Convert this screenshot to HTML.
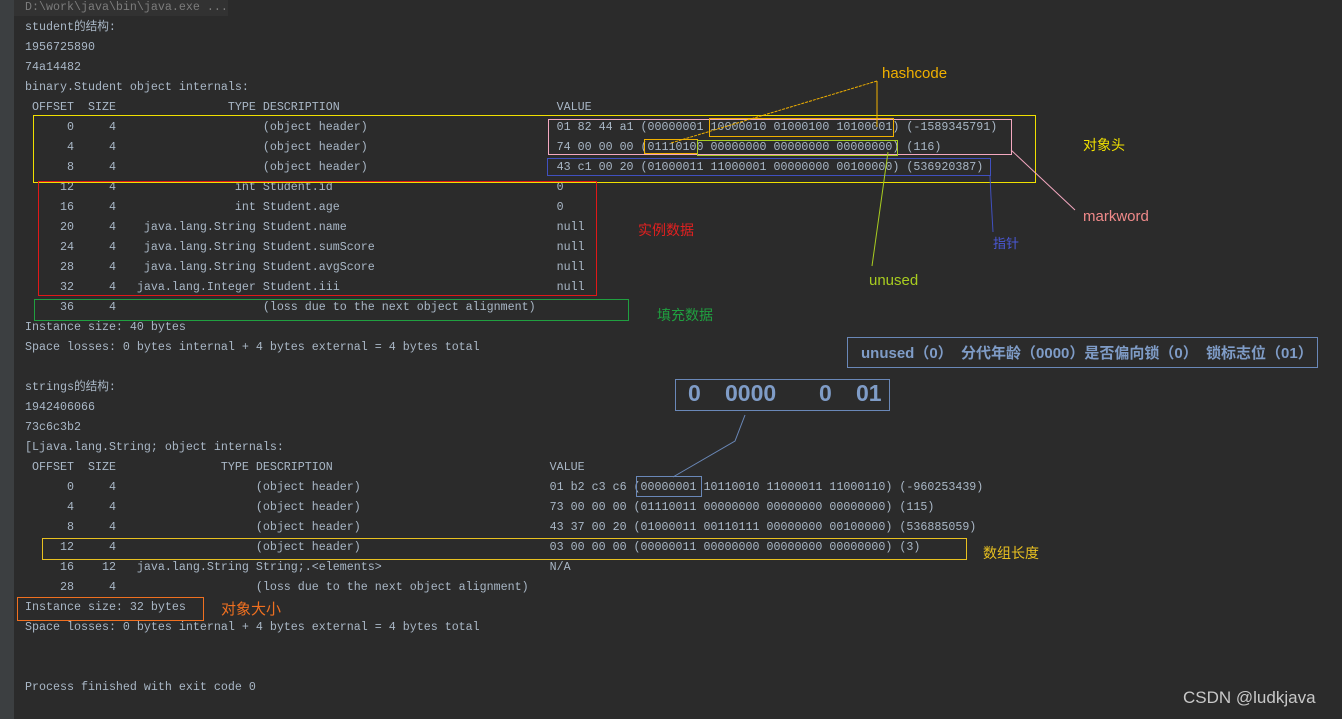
<!DOCTYPE html>
<html><head><meta charset="utf-8"><style>
html,body{margin:0;padding:0}
body{width:1342px;height:719px;background:#2b2b2b;position:relative;overflow:hidden;font-family:"Liberation Mono","Noto Sans CJK SC",monospace;font-size:11.67px;color:#a9b7c6}
.gut{position:absolute;left:0;top:0;width:14px;height:719px;background:#3c3f41}
.t{position:absolute;white-space:pre;line-height:20px;height:20px}
.b{position:absolute;box-sizing:border-box;border:1px solid}
.cn{font-family:"Liberation Sans","Noto Sans CJK SC",sans-serif;position:absolute;white-space:pre}
.big{font-family:"Liberation Sans",sans-serif;position:absolute;font-size:23px;font-weight:bold;color:#7f9cc7;top:380px}
</style></head><body>
<div class="gut"></div>
<div class="t" style="left:14px;top:0;width:214px;background:#323232;height:16px;line-height:14px;color:#7c7c7c"></div>
<div class="t" style="left:25px;top:0;height:16px;line-height:14px;color:#7c7c7c">D:\work\java\bin\java.exe ...</div>
<div class="t" style="left:25px;top:17px">student的结构:</div>
<div class="t" style="left:25px;top:37px">1956725890</div>
<div class="t" style="left:25px;top:57px">74a14482</div>
<div class="t" style="left:25px;top:77px">binary.Student object internals:</div>
<div class="t" style="left:25px;top:97px"> OFFSET  SIZE                TYPE DESCRIPTION                               VALUE</div>
<div class="t" style="left:25px;top:117px">      0     4                     (object header)                           01 82 44 a1 (00000001 10000010 01000100 10100001) (-1589345791)</div>
<div class="t" style="left:25px;top:137px">      4     4                     (object header)                           74 00 00 00 (01110100 00000000 00000000 00000000) (116)</div>
<div class="t" style="left:25px;top:157px">      8     4                     (object header)                           43 c1 00 20 (01000011 11000001 00000000 00100000) (536920387)</div>
<div class="t" style="left:25px;top:177px">     12     4                 int Student.id                                0</div>
<div class="t" style="left:25px;top:197px">     16     4                 int Student.age                               0</div>
<div class="t" style="left:25px;top:217px">     20     4    java.lang.String Student.name                              null</div>
<div class="t" style="left:25px;top:237px">     24     4    java.lang.String Student.sumScore                          null</div>
<div class="t" style="left:25px;top:257px">     28     4    java.lang.String Student.avgScore                          null</div>
<div class="t" style="left:25px;top:277px">     32     4   java.lang.Integer Student.iii                               null</div>
<div class="t" style="left:25px;top:297px">     36     4                     (loss due to the next object alignment)</div>
<div class="t" style="left:25px;top:317px">Instance size: 40 bytes</div>
<div class="t" style="left:25px;top:337px">Space losses: 0 bytes internal + 4 bytes external = 4 bytes total</div>
<div class="t" style="left:25px;top:377px">strings的结构:</div>
<div class="t" style="left:25px;top:397px">1942406066</div>
<div class="t" style="left:25px;top:417px">73c6c3b2</div>
<div class="t" style="left:25px;top:437px">[Ljava.lang.String; object internals:</div>
<div class="t" style="left:25px;top:457px"> OFFSET  SIZE               TYPE DESCRIPTION                               VALUE</div>
<div class="t" style="left:25px;top:477px">      0     4                    (object header)                           01 b2 c3 c6 (00000001 10110010 11000011 11000110) (-960253439)</div>
<div class="t" style="left:25px;top:497px">      4     4                    (object header)                           73 00 00 00 (01110011 00000000 00000000 00000000) (115)</div>
<div class="t" style="left:25px;top:517px">      8     4                    (object header)                           43 37 00 20 (01000011 00110111 00000000 00100000) (536885059)</div>
<div class="t" style="left:25px;top:537px">     12     4                    (object header)                           03 00 00 00 (00000011 00000000 00000000 00000000) (3)</div>
<div class="t" style="left:25px;top:557px">     16    12   java.lang.String String;.&lt;elements&gt;                        N/A</div>
<div class="t" style="left:25px;top:577px">     28     4                    (loss due to the next object alignment)</div>
<div class="t" style="left:25px;top:597px">Instance size: 32 bytes</div>
<div class="t" style="left:25px;top:617px">Space losses: 0 bytes internal + 4 bytes external = 4 bytes total</div>
<div class="t" style="left:25px;top:677px">Process finished with exit code 0</div>

<div class="b" style="left:33px;top:115px;width:1003px;height:68px;border-color:#f0e000"></div>
<div class="b" style="left:548px;top:119px;width:464px;height:36px;border-color:#f4a8c0"></div>
<div class="b" style="left:709px;top:118px;width:185px;height:19px;border-color:#f0b000"></div>
<div class="b" style="left:644px;top:139px;width:54px;height:15px;border-color:#f0b000"></div>
<div class="b" style="left:697px;top:140px;width:201px;height:16px;border-color:#a8cc20"></div>
<div class="b" style="left:547px;top:158px;width:444px;height:18px;border-color:#4050c0"></div>
<div class="b" style="left:38px;top:181px;width:559px;height:115px;border-color:#e01818"></div>
<div class="b" style="left:34px;top:299px;width:595px;height:22px;border-color:#20a040"></div>
<div class="b" style="left:847px;top:337px;width:471px;height:31px;border-color:#6a88b8"></div>
<div class="b" style="left:675px;top:379px;width:215px;height:32px;border-color:#6a88b8"></div>
<div class="b" style="left:636px;top:476px;width:66px;height:21px;border-color:#6a88b8"></div>
<div class="b" style="left:42px;top:538px;width:925px;height:22px;border-color:#e8c020"></div>
<div class="b" style="left:17px;top:597px;width:187px;height:24px;border-color:#f07020"></div>

<svg width="1342" height="719" style="position:absolute;left:0;top:0">
<line x1="877" y1="81" x2="671" y2="143" stroke="#f0b000" stroke-width="1" stroke-dasharray="3,1"/>
<line x1="877" y1="81" x2="877" y2="127" stroke="#f0b000" stroke-width="1"/>
<line x1="1011" y1="150" x2="1075" y2="210" stroke="#f4a8c0" stroke-width="1"/>
<polyline points="990,176 991,197 993,232" fill="none" stroke="#4050c0" stroke-width="1"/>
<line x1="888" y1="152" x2="872" y2="266" stroke="#a8cc20" stroke-width="1"/>
<polyline points="745,415 735,441 673,477" fill="none" stroke="#6a88b8" stroke-width="1"/>
</svg>

<div class="cn" style="left:882px;top:65px;font-size:15px;color:#f0b000">hashcode</div>
<div class="cn" style="left:1083px;top:135px;font-size:14px;color:#f0e000">对象头</div>
<div class="cn" style="left:1083px;top:208px;font-size:15px;color:#f08a8a">markword</div>
<div class="cn" style="left:993px;top:233px;font-size:13px;color:#4a58d8">指针</div>
<div class="cn" style="left:869px;top:272px;font-size:15px;color:#a8cc20">unused</div>
<div class="cn" style="left:638px;top:220px;font-size:14px;color:#e02020">实例数据</div>
<div class="cn" style="left:657px;top:305px;font-size:14px;color:#20a040">填充数据</div>
<div class="cn" style="left:861px;top:342px;font-size:15px;font-weight:bold;color:#7f9cc7">unused（0）  分代年龄（0000）是否偏向锁（0）  锁标志位（01）</div>
<div class="big" style="left:688px">0</div>
<div class="big" style="left:725px">0000</div>
<div class="big" style="left:819px">0</div>
<div class="big" style="left:856px">01</div>
<div class="cn" style="left:983px;top:543px;font-size:14px;color:#e8c020">数组长度</div>
<div class="cn" style="left:221px;top:598px;font-size:15px;color:#f07020">对象大小</div>
<div class="cn" style="left:1183px;top:688px;font-size:17px;color:#c8c8c8">CSDN @ludkjava</div>
</body></html>
